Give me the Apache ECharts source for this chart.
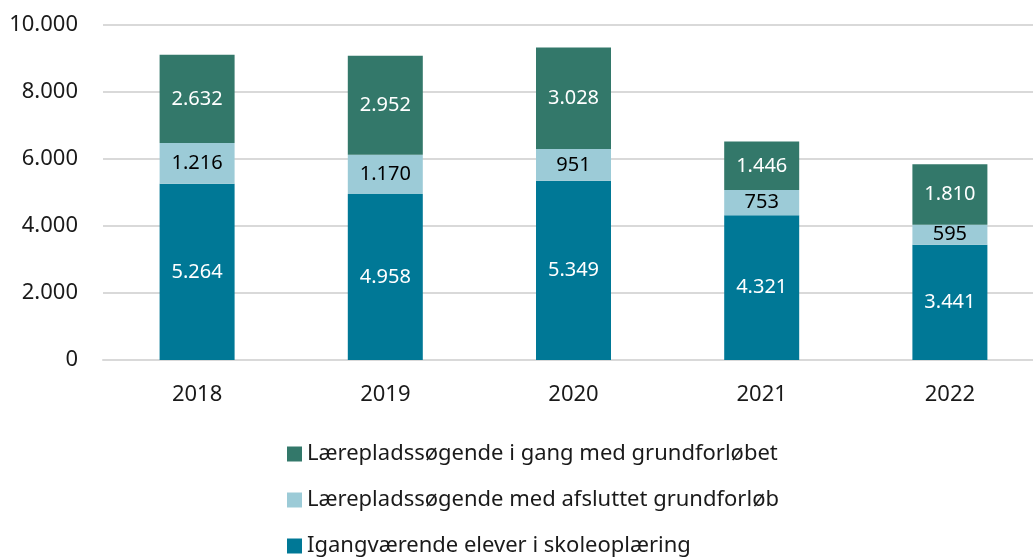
<!DOCTYPE html>
<html>
<head>
<meta charset="utf-8">
<script src="https://cdn.jsdelivr.net/npm/echarts@6/dist/echarts.min.js"></script>
<style>
  html, body { margin: 0; padding: 0; background: #fff; overflow: hidden; }
  #chart { width: 1044px; height: 557px; }
</style>
</head>
<body>
<div id="chart"></div>
<script>
    var years = ['2018', '2019', '2020', '2021', '2022'];
    var seriesNames = [
        'Lærepladssøgende i gang med grundforløbet',
        'Lærepladssøgende med afsluttet grundforløb',
        'Igangværende elever i skoleoplæring'
    ];
    var iGang = [2632, 2952, 3028, 1446, 1810];
    var afsluttet = [1216, 1170, 951, 753, 595];
    var skoleoplaering = [5264, 4958, 5349, 4321, 3441];
    var yTicks = [0, 2000, 4000, 6000, 8000, 10000];

    var fontFamily = '"Noto Sans", "Open Sans", sans-serif';

    // tusindtalsseparator med punktum
    function fmt(v) {
        return String(v).replace(/\B(?=(\d{3})+(?!\d))/g, '.');
    }

    var chart = echarts.init(document.getElementById('chart'));

    function bar(name, data, color, labelColor) {
        return {
            name: name,
            type: 'bar',
            stack: 'total',
            data: data,
            barWidth: 75,
            itemStyle: { color: color },
            label: {
                show: true,
                position: 'inside',
                color: labelColor,
                fontSize: 20,
                fontFamily: fontFamily,
                formatter: function (p) { return fmt(p.value); }
            }
        };
    }

    chart.setOption({
        animation: false,
        textStyle: { fontFamily: fontFamily },
        grid: { left: 103, right: 0, top: 25, bottom: 197 },
        legend: {
            orient: 'vertical',
            left: 282,
            top: 438,
            height: 200,
            itemWidth: 15,
            itemHeight: 15,
            itemGap: 24,
            icon: 'rect',
            data: seriesNames,
            textStyle: { fontSize: 22, color: '#1a1a1a', fontFamily: fontFamily }
        },
        xAxis: {
            type: 'category',
            data: years,
            axisTick: { show: false },
            axisLine: { lineStyle: { color: '#d9d9d9', width: 2 } },
            axisLabel: { fontSize: 22, color: '#1a1a1a', margin: 24 }
        },
        yAxis: {
            type: 'value',
            min: yTicks[0],
            max: yTicks[yTicks.length - 1],
            interval: 2000,
            axisLabel: {
                fontSize: 22,
                color: '#1a1a1a',
                margin: 25,
                formatter: function (v) { return fmt(v); }
            },
            splitLine: { lineStyle: { color: '#d9d9d9', width: 2 } }
        },
        series: [
            bar(seriesNames[2], skoleoplaering, '#007896', '#ffffff'),
            bar(seriesNames[1], afsluttet, '#9ccbd7', '#000000'),
            bar(seriesNames[0], iGang, '#33786a', '#ffffff')
        ]
    });
</script>
</body>
</html>
